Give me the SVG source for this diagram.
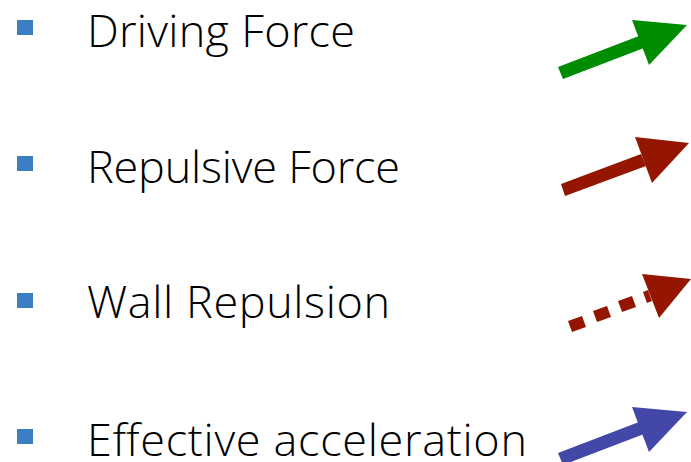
<svg xmlns="http://www.w3.org/2000/svg" width="691" height="462" viewBox="0 0 691 462">
<style>
.b{fill:#3a7fc4}
.t{font-family:"Open Sans",sans-serif;font-size:45px;font-weight:300;fill:#000}
</style>
<rect width="691" height="462" fill="#fff"/>
<g id="item-driving">
<rect class="b" x="17" y="20" width="16" height="15"/>
<text class="t" x="87" y="47" textLength="268">Driving Force</text>
</g>
<g id="item-repulsive">
<rect class="b" x="17" y="156" width="16" height="15"/>
<text class="t" x="87" y="183" textLength="313">Repulsive Force</text>
</g>
<g id="item-wall">
<rect class="b" x="17" y="293" width="16" height="15"/>
<text class="t" x="87" y="318" textLength="303">Wall Repulsion</text>
</g>
<g id="item-effective">
<rect class="b" x="17" y="429" width="16" height="15"/>
<text class="t" x="87" y="456" textLength="440">Effective acceleration</text>
</g>
<g id="connectors">
<g id="arrow-driving" fill="#008c00">
<polygon points="558,67 563,79 644,48 639,36"/>
<polygon points="632,20 687,25 649,65"/>
</g>
<g id="arrow-repulsive" fill="#941600">
<polygon points="561,184 565,196 646,166 641,154"/>
<polygon points="635,137 689,143 652,183"/>
</g>
<g id="arrow-wall" fill="#941600">
<polygon points="568,321 582,316 586,327 572,332"/>
<polygon points="593,311 607,306 611,317 597,322"/>
<polygon points="618,301 632,296 636,307 622,312"/>
<polygon points="643,292 648,290 652,301 647,303"/>
<polygon points="642,274 691,279 659,318"/>
</g>
<g id="arrow-effective" fill="#4347a8">
<polygon points="558,453 563,465 644,434 639,422"/>
<polygon points="632,407 687,412 649,452"/>
</g>
</g>
</svg>
